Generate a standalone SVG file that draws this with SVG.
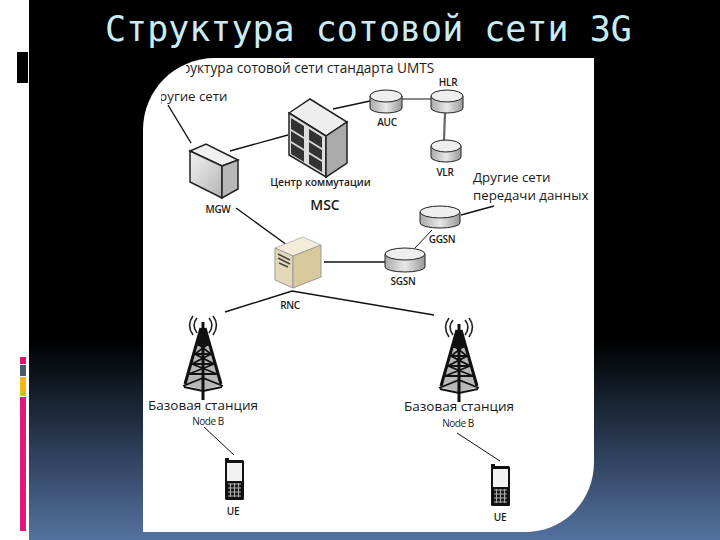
<svg xmlns="http://www.w3.org/2000/svg" width="720" height="540" viewBox="0 0 720 540">
<style>
.t{font-family:"Open Sans","Liberation Sans",sans-serif;fill:#1a1a1a}
.s{font-size:10px;text-anchor:middle}
.m{font-size:13.3px}
.n{font-size:10px;text-anchor:middle;letter-spacing:-.3px}
.c{fill:none;stroke:#111;stroke-width:1.4}
.l{stroke:#111;stroke-width:1;fill:none}
</style>
<defs>
<linearGradient id="bg" x1="0" y1="0" x2="0" y2="1">
<stop offset="0" stop-color="#000"/><stop offset=".63" stop-color="#000"/><stop offset=".8" stop-color="#25344a"/><stop offset="1" stop-color="#54729f"/>
</linearGradient>
<linearGradient id="cy" x1="0" y1="0" x2="1" y2="0"><stop offset="0" stop-color="#aaa"/><stop offset=".5" stop-color="#e8e8e8"/><stop offset="1" stop-color="#999"/></linearGradient>
<linearGradient id="mg" x1="0" y1="0" x2="1" y2="1"><stop offset="0" stop-color="#f2f2f2"/><stop offset="1" stop-color="#b5b5b5"/></linearGradient>
<clipPath id="c1"><rect x="186" y="58" width="300" height="20"/></clipPath>
<clipPath id="c2"><rect x="161" y="85" width="100" height="20"/></clipPath>
<symbol id="tower" viewBox="0 0 44 88" width="44" height="88" overflow="visible">
<path d="M22 6V84M20 12L4 68M24 12L40 68" stroke="#111" stroke-width="3" fill="none"/>
<path d="M22 8L16 30H28Z" fill="#111"/>
<path d="M22 8L3 69L22 74L41 69Z" fill="#111" opacity=".3"/>
<path d="M17 28H27M14 38H30M11 48H33M8 58H36M17 28L30 38L11 48L36 58M27 28L14 38L33 48L8 58M2 70L22 62L42 70M3 71L22 75L41 71" stroke="#111" stroke-width="1.8" fill="none"/>
<path d="M16 2Q10 9 16 17M12 0Q5 9 12 19M28 2Q34 9 28 17M32 0Q39 9 32 19" stroke="#222" stroke-width="1.6" fill="none"/>
</symbol>
<symbol id="phone" viewBox="0 0 19 42" width="19" height="42" overflow="visible">
<rect x="0" y="2" width="19" height="40" rx="1.5" fill="#111"/>
<rect x="2" y="5" width="15" height="18" fill="#f2f2f2"/>
<rect x="0" y="0" width="4" height="3" fill="#111"/>
<path d="M3 26H16M3 30H16M3 34H16M3 38H16M5.500 25V39M9.500 25V39M13.500 25V39" stroke="#aaa" stroke-width="1.200"/>
</symbol>
</defs>
<rect width="720" height="540" fill="#fff"/>
<rect x="29" width="691" height="540" fill="url(#bg)"/>
<rect x="17" y="52" width="11" height="31" fill="#000"/>
<rect x="20" y="357" width="6" height="7" fill="#d6186d"/>
<rect x="20" y="365" width="6" height="11" fill="#4a5a68"/>
<rect x="20" y="377" width="6" height="19" fill="#f2b616"/>
<rect x="20" y="397" width="6" height="134" fill="#e0187c"/>
<path d="M215 58H594V462C594 500 565 532 525 532H143V130C143 90 175 58 215 58Z" fill="#fff"/>
<text x="105" y="41" font-family="'DejaVu Sans Mono',monospace" font-size="35" fill="#c9ebf6">Структура сотовой сети 3G</text>
<g clip-path="url(#c1)"><text class="t" x="167" y="73" font-size="13.600">Структура сотовой сети стандарта UMTS</text></g>
<g id="connectors">
<path class="c" d="M168 105L191 143M230 151L288 135M333 109L370 101M324 262H387M236 208L287 245M225 312L292 291L434 315M461 215L494 206"/>
<path class="l" d="M402 99H431M432 230L415 248M204 427L234 455M457 433L500 461"/>
<path d="M445 113L444 140" stroke="#666" stroke-width="2.200"/>
</g>
<g id="other-networks"><g clip-path="url(#c2)"><text class="t m" x="150" y="101">Другие сети</text></g></g>
<g id="mgw">
<path d="M190 151L206 144L238 160L222 166Z" fill="#f0f0f0" stroke="#222" stroke-width="1.500"/>
<path d="M190 151L222 166V198L190 182Z" fill="url(#mg)" stroke="#222" stroke-width="1.500"/>
<path d="M222 166L238 160V189L222 198Z" fill="#b8b8b8" stroke="#222" stroke-width="1.500"/>
<text class="t n" x="218" y="213" font-weight="600">MGW</text>
</g>
<g id="msc">
<path d="M289 113L310 99L347 122L326 136Z" fill="#eee" stroke="#222" stroke-width="1.500"/>
<path d="M289 113L326 136V177L289 155Z" fill="#ddd" stroke="#222" stroke-width="1.500"/>
<path d="M326 136L347 122V163L326 177Z" fill="#aaa" stroke="#222" stroke-width="1.500"/>
<path d="M291 118L304 126V137L291 129ZM309 129L322 137V148L309 140ZM291 131L304 139V149L291 141ZM309 142L322 150V160L309 152ZM291 143L304 151V162L291 154ZM309 154L322 162V172L309 164Z" fill="#333"/>
<text class="t" x="320.500" y="186" font-size="10.300" text-anchor="middle" font-weight="600">Центр коммутации</text>
<text class="t" x="325" y="210" font-size="14" text-anchor="middle" font-weight="600">MSC</text>
</g>
<g id="auc">
<path d="M370 96V108A16 5 0 0 0 402 108V96Z" fill="url(#cy)" stroke="#222"/>
<ellipse cx="386" cy="96" rx="16" ry="6" fill="#eee" stroke="#222"/>
<text class="t n" x="387" y="126" font-weight="600">AUC</text>
</g>
<g id="hlr">
<path d="M431 96V108A16 5 0 0 0 463 108V96Z" fill="url(#cy)" stroke="#222"/>
<ellipse cx="447" cy="96" rx="16" ry="6" fill="#eee" stroke="#222"/>
<text class="t n" x="448" y="86" font-weight="600">HLR</text>
</g>
<g id="vlr">
<path d="M431 146V157A15 5 0 0 0 461 157V146Z" fill="url(#cy)" stroke="#222"/>
<ellipse cx="446" cy="146" rx="15" ry="6" fill="#eee" stroke="#222"/>
<text class="t n" x="445" y="176" font-weight="600">VLR</text>
</g>
<g id="data-networks">
<text class="t m" x="473" y="182">Другие сети</text>
<text class="t m" x="473" y="200">передачи данных</text>
</g>
<g id="ggsn">
<path d="M420 212V223A20 5 0 0 0 460 223V212Z" fill="url(#cy)" stroke="#222"/>
<ellipse cx="440" cy="212" rx="20" ry="6" fill="#eee" stroke="#222"/>
<text class="t n" x="442" y="243" font-weight="600">GGSN</text>
</g>
<g id="sgsn">
<path d="M385 254V267A20 5 0 0 0 425 267V254Z" fill="url(#cy)" stroke="#222"/>
<ellipse cx="405" cy="254" rx="20" ry="6" fill="#eee" stroke="#222"/>
<text class="t n" x="403" y="285" font-weight="600">SGSN</text>
</g>
<g id="rnc">
<path d="M275 248L303 237L321 245L293 256Z" fill="#f3ecd8" stroke="#bbb"/>
<path d="M275 248L293 256V288L275 280Z" fill="#e3d9b8" stroke="#999"/>
<path d="M293 256L321 245V277L293 288Z" fill="#d8c99c" stroke="#999"/>
<path d="M278 254L290 260M278 258L290 264M279 263L288 267" stroke="#444" stroke-width="1.500"/>
<text class="t n" x="290" y="309" font-weight="600">RNC</text>
</g>
<g id="bs1">
<use href="#tower" x="181" y="316"/>
<text class="t" x="203" y="410" font-size="13.500" text-anchor="middle">Базовая станция</text>
<text class="t s" x="208" y="425" letter-spacing="-.5">Node B</text>
</g>
<g id="bs2">
<use href="#tower" x="437" y="318"/>
<text class="t" x="459" y="411" font-size="13.500" text-anchor="middle">Базовая станция</text>
<text class="t s" x="458" y="427" letter-spacing="-.5">Node B</text>
</g>
<g id="ue1">
<use href="#phone" x="225" y="458"/>
<text class="t n" x="233" y="515" font-weight="600">UE</text>
</g>
<g id="ue2">
<use href="#phone" x="491" y="464"/>
<text class="t n" x="500" y="521" font-weight="600">UE</text>
</g>
</svg>
